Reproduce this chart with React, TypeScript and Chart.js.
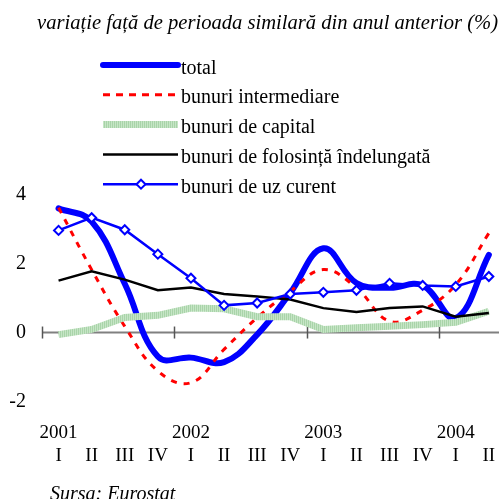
import React, { useEffect, useRef } from 'react';
import { Chart, registerables } from 'chart.js';

Chart.register(...registerables);

const quarterLabels = ['I', 'II', 'III', 'IV', 'I', 'II', 'III', 'IV', 'I', 'II', 'III', 'IV', 'I', 'II'];
const yearLabels = ['2001', '', '', '', '2002', '', '', '', '2003', '', '', '', '2004', ''];

const total = [3.61, 3.23, 1.42, -0.7, -0.73, -0.86, -0.06, 1.15, 2.45, 1.44, 1.3, 1.37, 0.42, 2.26];
const intermediare = [3.63, 1.83, 0.18, -1.12, -1.46, -0.49, 0.43, 1.2, 1.83, 1.3, 0.33, 0.65, 1.39, 2.89];
const capital = [-0.06, 0.09, 0.44, 0.5, 0.71, 0.69, 0.46, 0.46, 0.09, 0.14, 0.18, 0.23, 0.3, 0.62];
const folosinta = [1.51, 1.78, 1.54, 1.23, 1.31, 1.12, 1.05, 0.96, 0.71, 0.6, 0.71, 0.76, 0.46, 0.57];
const uzCurent = [2.97, 3.34, 2.99, 2.28, 1.58, 0.79, 0.86, 1.12, 1.17, 1.23, 1.43, 1.37, 1.34, 1.63];

const seriesNames = [
  'total',
  'bunuri intermediare',
  'bunuri de capital',
  'bunuri de folosință îndelungată',
  'bunuri de uz curent',
];
const yTicks = [-2, 0, 2, 4];
const titleText = 'variație față de perioada similară din anul anterior (%)';
const sourceText = 'Sursa: Eurostat';

const FONT = "'Liberation Serif', 'Times New Roman', serif";
const BLUE = '#0000ff';
const RED = '#ff0000';
const GREEN = '#b6dbb6';

const CW = 520;
const CH = 499;

function makeGreenPattern(): CanvasPattern | string {
  const c = document.createElement('canvas');
  c.width = 2;
  c.height = 2;
  const g = c.getContext('2d');
  if (!g) return GREEN;
  g.fillStyle = '#a9d4a9';
  g.fillRect(0, 0, 1, 2);
  g.fillStyle = '#c6e5c6';
  g.fillRect(1, 0, 1, 2);
  const p = g.createPattern(c, 'repeat');
  return p || GREEN;
}

const decorPlugin = {
  id: 'decor',
  beforeDatasetsDraw(chart: any) {
    const { ctx, chartArea, scales } = chart;
    const xs = scales.x;
    const y0 = scales.y.getPixelForValue(0);
    ctx.save();
    ctx.strokeStyle = '#808080';
    ctx.lineWidth = 2;
    ctx.beginPath();
    ctx.moveTo(chartArea.left, y0);
    ctx.lineTo(chartArea.right, y0);
    ctx.stroke();
    const half = (xs.getPixelForValue(1) - xs.getPixelForValue(0)) / 2;
    ctx.strokeStyle = '#555555';
    ctx.lineWidth = 1.5;
    for (let i = 0; i < quarterLabels.length; i += 4) {
      const px = Math.round(xs.getPixelForValue(i) - half) + 0.5;
      ctx.beginPath();
      ctx.moveTo(px, y0 - 6);
      ctx.lineTo(px, y0 + 6);
      ctx.stroke();
    }
    ctx.restore();
  },
  afterDraw(chart: any) {
    const { ctx } = chart;
    const green = chart.data.datasets[2].borderColor;
    ctx.save();
    // title
    ctx.fillStyle = '#000';
    ctx.font = `italic 20.6px ${FONT}`;
    ctx.textAlign = 'left';
    ctx.textBaseline = 'alphabetic';
    ctx.fillText(titleText, 37, 28.5);
    // source
    ctx.font = `italic 20px ${FONT}`;
    ctx.fillText(sourceText, 50, 500);
    // legend
    const x1 = 103;
    const x2 = 178;
    const tx = 181;
    ctx.font = `20px ${FONT}`;
    seriesNames.forEach((name, i) => {
      const y = 65 + i * 29.8;
      ctx.save();
      ctx.beginPath();
      if (i === 0) {
        ctx.strokeStyle = BLUE;
        ctx.lineWidth = 6;
        ctx.lineCap = 'round';
      } else if (i === 1) {
        ctx.strokeStyle = RED;
        ctx.lineWidth = 3;
        ctx.setLineDash([7, 6]);
      } else if (i === 2) {
        ctx.strokeStyle = green;
        ctx.lineWidth = 7;
      } else if (i === 3) {
        ctx.strokeStyle = '#000';
        ctx.lineWidth = 2.5;
      } else {
        ctx.strokeStyle = BLUE;
        ctx.lineWidth = 2.5;
      }
      ctx.moveTo(x1, y);
      ctx.lineTo(x2, y);
      ctx.stroke();
      if (i === 4) {
        const cx = 141;
        const r = 4.5;
        ctx.beginPath();
        ctx.moveTo(cx, y - r);
        ctx.lineTo(cx + r, y);
        ctx.lineTo(cx, y + r);
        ctx.lineTo(cx - r, y);
        ctx.closePath();
        ctx.fillStyle = '#fff';
        ctx.fill();
        ctx.lineWidth = 2;
        ctx.stroke();
      }
      ctx.restore();
      ctx.fillStyle = '#000';
      ctx.fillText(name, tx, y + 8.5);
    });
    ctx.restore();
  },
};

export default function App() {
  const ref = useRef<HTMLCanvasElement>(null);

  useEffect(() => {
    const categories = quarterLabels.map((q, i) => [yearLabels[i], q]);
    const greenStroke = makeGreenPattern();
    const chart = new Chart(ref.current as HTMLCanvasElement, {
      type: 'line',
      data: {
        labels: categories,
        datasets: [
          {
            label: seriesNames[0],
            data: total,
            borderColor: BLUE,
            borderWidth: 6,
            borderCapStyle: 'round',
            borderJoinStyle: 'round',
            tension: 0.4,
            pointRadius: 0,
            order: 5,
          },
          {
            label: seriesNames[1],
            data: intermediare,
            borderColor: RED,
            borderWidth: 3,
            borderDash: [6, 7],
            tension: 0.4,
            pointRadius: 0,
            order: 4,
          },
          {
            label: seriesNames[2],
            data: capital,
            borderColor: greenStroke as any,
            borderWidth: 7,
            tension: 0,
            pointRadius: 0,
            order: 3,
          },
          {
            label: seriesNames[3],
            data: folosinta,
            borderColor: '#000',
            borderWidth: 2.5,
            tension: 0,
            pointRadius: 0,
            order: 2,
          },
          {
            label: seriesNames[4],
            data: uzCurent,
            borderColor: BLUE,
            borderWidth: 2.5,
            tension: 0,
            pointStyle: 'rectRot',
            pointRadius: 4.5,
            pointBorderWidth: 2,
            pointBackgroundColor: '#fff',
            pointBorderColor: BLUE,
            order: 1,
          },
        ],
      },
      options: {
        responsive: false,
        animation: false,
        devicePixelRatio: 1,
        layout: { padding: { left: 0, right: 14.6, top: 195, bottom: 0 } },
        plugins: {
          legend: { display: false },
          title: { display: false },
          tooltip: { enabled: false },
        },
        scales: {
          x: {
            type: 'category',
            offset: true,
            grid: { display: false, drawTicks: false },
            border: { display: false },
            ticks: {
              autoSkip: false,
              maxRotation: 0,
              minRotation: 0,
              padding: 20,
              color: '#000',
              font: { family: FONT, size: 19, lineHeight: '23px' as any },
            },
            afterFit: (scale: any) => {
              scale.height = 97.7;
            },
          },
          y: {
            min: -2,
            max: 4,
            grid: { display: false, drawTicks: false },
            border: { display: false },
            afterBuildTicks: (scale: any) => {
              scale.ticks = yTicks.map((v) => ({ value: v }));
            },
            ticks: {
              padding: 16,
              color: '#000',
              font: { family: FONT, size: 20 },
            },
            afterFit: (scale: any) => {
              scale.width = 42;
            },
          },
        },
      },
      plugins: [decorPlugin],
    });
    return () => chart.destroy();
  }, []);

  return (
    <div
      style={{
        position: 'absolute',
        left: 0,
        top: 0,
        width: 499,
        height: 499,
        overflow: 'hidden',
        background: '#fff',
      }}
    >
      <canvas ref={ref} width={CW} height={CH} style={{ display: 'block', width: CW, height: CH }} />
    </div>
  );
}
